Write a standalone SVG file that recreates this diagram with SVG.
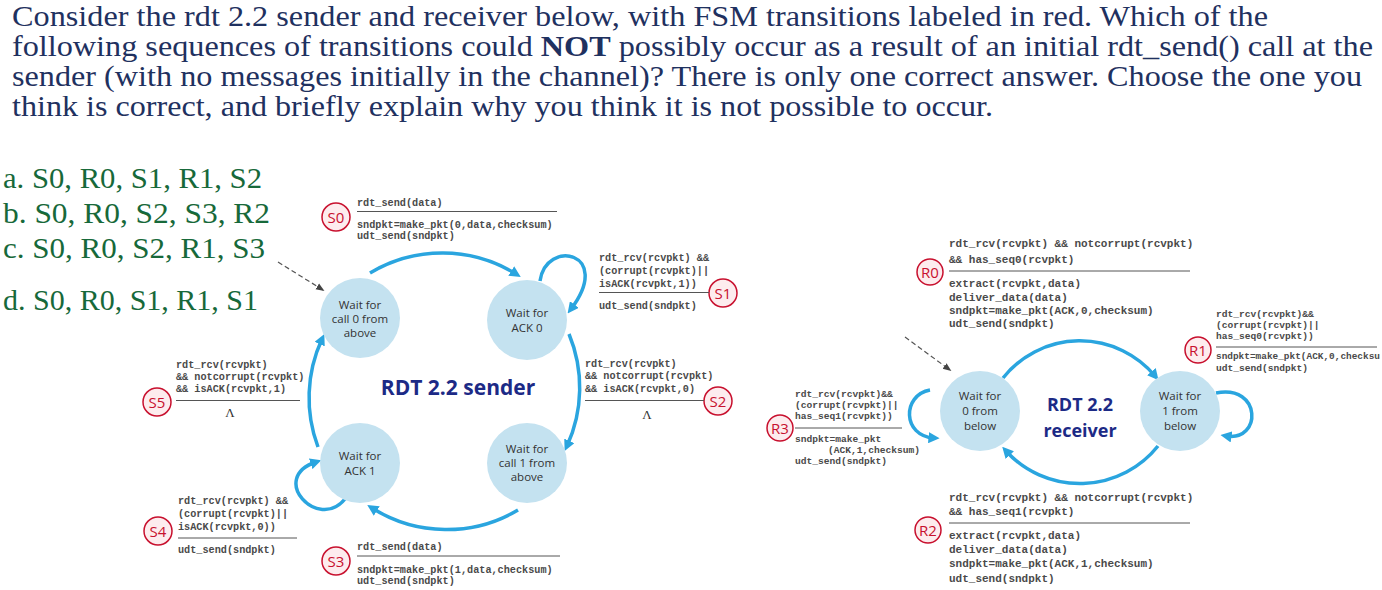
<svg xmlns="http://www.w3.org/2000/svg" width="1382" height="590" viewBox="0 0 1382 590">
<style>
.hdr{font-family:"Liberation Serif",serif;font-size:29px;fill:#1f3160}
.ch{font-family:"Liberation Serif",serif;font-size:29px;fill:#17693a}
.st{fill:#c4e2f0;stroke:none}
.stt{font-family:"Open Sans","Liberation Sans",sans-serif;font-size:11.5px;fill:#333;text-anchor:middle}
.ttl{font-family:"Open Sans","Liberation Sans",sans-serif;font-weight:bold;fill:#1c2a86;text-anchor:middle}
.arc{fill:none;stroke:#2aa5df;stroke-width:3.5;marker-end:url(#ah)}
.dash{fill:none;stroke:#555;stroke-width:1.2;stroke-dasharray:5 3;marker-end:url(#dh)}
.m{font-family:"Liberation Mono",monospace;font-weight:bold;fill:#4a4a4a}
.m10{font-size:10.2px}
.m11{font-size:11px}
.m9{font-size:9.6px}
.sep{stroke:#555;stroke-width:1}
.lc{fill:#fdecee;stroke:#c8102e;stroke-width:1.5}
.lt{font-family:"Open Sans","Liberation Sans",sans-serif;font-size:15px;fill:#c8102e;text-anchor:middle}
.lam{font-family:"Liberation Serif",serif;font-size:13px;fill:#333;text-anchor:middle}
</style>
<defs>
<marker id="ah" viewBox="0 0 10 10" refX="5" refY="5" markerWidth="3.2" markerHeight="3.2" orient="auto" markerUnits="strokeWidth">
<path d="M0,0 L10,5 L0,10 z" fill="#2aa5df"/>
</marker>
<marker id="dh" viewBox="0 0 10 10" refX="8" refY="5" markerWidth="7" markerHeight="7" orient="auto" markerUnits="strokeWidth">
<path d="M0,1 L10,5 L0,9 z" fill="#444"/>
</marker>
</defs>
<rect width="1382" height="590" fill="#fff"/>

<g id="question">
<text class="hdr" x="12" y="26" textLength="1256" lengthAdjust="spacingAndGlyphs">Consider the rdt 2.2 sender and receiver below, with FSM transitions labeled in red. Which of the</text>
<text class="hdr" x="12" y="56" textLength="1361" lengthAdjust="spacingAndGlyphs">following sequences of transitions could <tspan font-weight="bold">NOT</tspan> possibly occur as a result of an initial rdt_send() call at the</text>
<text class="hdr" x="12" y="86" textLength="1350" lengthAdjust="spacingAndGlyphs">sender (with no messages initially in the channel)? There is only one correct answer. Choose the one you</text>
<text class="hdr" x="12" y="116" textLength="981" lengthAdjust="spacingAndGlyphs">think is correct, and briefly explain why you think it is not possible to occur.</text>
</g>

<g id="choices">
<text class="ch" x="3" y="188" textLength="259" lengthAdjust="spacingAndGlyphs">a. S0, R0, S1, R1, S2</text>
<text class="ch" x="3" y="223" textLength="267" lengthAdjust="spacingAndGlyphs">b. S0, R0, S2, S3, R2</text>
<text class="ch" x="3" y="258" textLength="262" lengthAdjust="spacingAndGlyphs">c. S0, R0, S2, R1, S3</text>
<text class="ch" x="3" y="310" textLength="255" lengthAdjust="spacingAndGlyphs">d. S0, R0, S1, R1, S1</text>
</g>

<g id="connectors">
<path class="dash" d="M278,262 L323,290"/>
<path class="arc" d="M370,273 A140,140 0 0 1 516,274"/>
<path class="arc" d="M569,334 A140,140 0 0 1 567,446"/>
<path class="arc" d="M518,510 A140,140 0 0 1 372,508"/>
<path class="arc" d="M318,447 A140,140 0 0 1 322,339"/>
<path class="arc" d="M540,281 C546,238 614,252 571,309"/>
<path class="arc" d="M345,499 C318,532 268,478 316,462"/>
<path class="dash" d="M905,337 L950,370"/>
<path class="arc" d="M1003,378 A98,98 0 0 1 1155,376"/>
<path class="arc" d="M1158,446 A100,100 0 0 1 1006,451"/>
<path class="arc" d="M930,390 C902,395 902,436 934,438"/>
<path class="arc" d="M1216,393 C1262,384 1262,442 1226,436"/>
</g>

<g id="sender-title"><text class="ttl" x="458" y="395" font-size="21px">RDT 2.2 sender</text></g>

<g id="s-wait-call0">
<circle class="st" cx="360" cy="318" r="40"/>
<text class="stt" x="360" y="309">Wait for</text>
<text class="stt" x="360" y="323">call 0 from</text>
<text class="stt" x="360" y="337">above</text>
</g>
<g id="s-wait-ack0">
<circle class="st" cx="527" cy="320" r="40"/>
<text class="stt" x="527" y="317">Wait for</text>
<text class="stt" x="527" y="332">ACK 0</text>
</g>
<g id="s-wait-call1">
<circle class="st" cx="527" cy="463" r="40"/>
<text class="stt" x="527" y="453">Wait for</text>
<text class="stt" x="527" y="467">call 1 from</text>
<text class="stt" x="527" y="481">above</text>
</g>
<g id="s-wait-ack1">
<circle class="st" cx="360" cy="463" r="40"/>
<text class="stt" x="360" y="460">Wait for</text>
<text class="stt" x="360" y="475">ACK 1</text>
</g>

<g id="label-S0">
<circle class="lc" cx="336" cy="217" r="14"/><text class="lt" x="336" y="222.5">S0</text>
<text class="m m10" x="357" y="206">rdt_send(data)</text>
<line class="sep" x1="357" y1="211.5" x2="557" y2="211.5"/>
<text class="m m10" x="357" y="228">sndpkt=make_pkt(0,data,checksum)</text>
<text class="m m10" x="357" y="239">udt_send(sndpkt)</text>
</g>
<g id="label-S1">
<circle class="lc" cx="723" cy="293" r="14"/><text class="lt" x="723" y="298.5">S1</text>
<text class="m m10" x="599" y="261">rdt_rcv(rcvpkt) &amp;&amp;</text>
<text class="m m10" x="599" y="273.5">(corrupt(rcvpkt)||</text>
<text class="m m10" x="599" y="286.5">isACK(rcvpkt,1))</text>
<line class="sep" x1="599" y1="292.5" x2="709" y2="292.5"/>
<text class="m m10" x="599" y="309">udt_send(sndpkt)</text>
</g>
<g id="label-S2">
<circle class="lc" cx="718" cy="401" r="14"/><text class="lt" x="718" y="406.5">S2</text>
<text class="m m10" x="585" y="367">rdt_rcv(rcvpkt)</text>
<text class="m m10" x="585" y="379">&amp;&amp; notcorrupt(rcvpkt)</text>
<text class="m m10" x="585" y="391.5">&amp;&amp; isACK(rcvpkt,0)</text>
<line class="sep" x1="585" y1="400.5" x2="704" y2="400.5"/>
<text class="lam" x="647" y="419">Λ</text>
</g>
<g id="label-S3">
<circle class="lc" cx="336" cy="561" r="14"/><text class="lt" x="336" y="566.5">S3</text>
<text class="m m10" x="357" y="550">rdt_send(data)</text>
<line class="sep" x1="357" y1="556" x2="560" y2="556"/>
<text class="m m10" x="357" y="573">sndpkt=make_pkt(1,data,checksum)</text>
<text class="m m10" x="357" y="584">udt_send(sndpkt)</text>
</g>
<g id="label-S4">
<circle class="lc" cx="158" cy="531" r="14"/><text class="lt" x="158" y="536.5">S4</text>
<text class="m m10" x="178" y="504">rdt_rcv(rcvpkt) &amp;&amp;</text>
<text class="m m10" x="178" y="517">(corrupt(rcvpkt)||</text>
<text class="m m10" x="178" y="530">isACK(rcvpkt,0))</text>
<line class="sep" x1="178" y1="538" x2="297" y2="538"/>
<text class="m m10" x="178" y="553">udt_send(sndpkt)</text>
</g>
<g id="label-S5">
<circle class="lc" cx="157" cy="402" r="14"/><text class="lt" x="157" y="407.5">S5</text>
<text class="m m10" x="176" y="368">rdt_rcv(rcvpkt)</text>
<text class="m m10" x="176" y="380">&amp;&amp; notcorrupt(rcvpkt)</text>
<text class="m m10" x="176" y="392">&amp;&amp; isACK(rcvpkt,1)</text>
<line class="sep" x1="176" y1="400.5" x2="300" y2="400.5"/>
<text class="lam" x="230" y="417">Λ</text>
</g>

<g id="receiver-title">
<text class="ttl" x="1080" y="411" font-size="18px">RDT 2.2</text>
<text class="ttl" x="1080" y="437" font-size="18px">receiver</text>
</g>
<g id="r-wait-0">
<circle class="st" cx="980" cy="411" r="40"/>
<text class="stt" x="980" y="400">Wait for</text>
<text class="stt" x="980" y="415">0 from</text>
<text class="stt" x="980" y="430">below</text>
</g>
<g id="r-wait-1">
<circle class="st" cx="1180" cy="411" r="40"/>
<text class="stt" x="1180" y="400">Wait for</text>
<text class="stt" x="1180" y="415">1 from</text>
<text class="stt" x="1180" y="430">below</text>
</g>

<g id="label-R0">
<circle class="lc" cx="930" cy="272" r="13"/><text class="lt" x="930" y="277.5">R0</text>
<text class="m m11" x="949" y="247">rdt_rcv(rcvpkt) &amp;&amp; notcorrupt(rcvpkt)</text>
<text class="m m11" x="949" y="263">&amp;&amp; has_seq0(rcvpkt)</text>
<line class="sep" x1="949" y1="271" x2="1190" y2="271"/>
<text class="m m11" x="949" y="287">extract(rcvpkt,data)</text>
<text class="m m11" x="949" y="301">deliver_data(data)</text>
<text class="m m11" x="949" y="314">sndpkt=make_pkt(ACK,0,checksum)</text>
<text class="m m11" x="949" y="327">udt_send(sndpkt)</text>
</g>
<g id="label-R1">
<circle class="lc" cx="1198" cy="350" r="13"/><text class="lt" x="1198" y="355.5">R1</text>
<text class="m m9" x="1216" y="317">rdt_rcv(rcvpkt)&amp;&amp;</text>
<text class="m m9" x="1216" y="328">(corrupt(rcvpkt)||</text>
<text class="m m9" x="1216" y="339">has_seq0(rcvpkt))</text>
<line class="sep" x1="1216" y1="347" x2="1377" y2="347"/>
<text class="m m9" x="1216" y="359" textLength="164" lengthAdjust="spacingAndGlyphs">sndpkt=make_pkt(ACK,0,checksu</text>
<text class="m m9" x="1216" y="371">udt_send(sndpkt)</text>
</g>
<g id="label-R2">
<circle class="lc" cx="928" cy="530" r="13"/><text class="lt" x="928" y="535.5">R2</text>
<text class="m m11" x="949" y="501">rdt_rcv(rcvpkt) &amp;&amp; notcorrupt(rcvpkt)</text>
<text class="m m11" x="949" y="515">&amp;&amp; has_seq1(rcvpkt)</text>
<line class="sep" x1="949" y1="523" x2="1190" y2="523"/>
<text class="m m11" x="949" y="539">extract(rcvpkt,data)</text>
<text class="m m11" x="949" y="553">deliver_data(data)</text>
<text class="m m11" x="949" y="567">sndpkt=make_pkt(ACK,1,checksum)</text>
<text class="m m11" x="949" y="582">udt_send(sndpkt)</text>
</g>
<g id="label-R3">
<circle class="lc" cx="780" cy="428" r="13"/><text class="lt" x="780" y="433.5">R3</text>
<text class="m m9" x="795" y="397">rdt_rcv(rcvpkt)&amp;&amp;</text>
<text class="m m9" x="795" y="408">(corrupt(rcvpkt)||</text>
<text class="m m9" x="795" y="419">has_seq1(rcvpkt))</text>
<line class="sep" x1="795" y1="428" x2="902" y2="428"/>
<text class="m m9" x="795" y="442">sndpkt=make_pkt</text>
<text class="m m9" x="828" y="453">(ACK,1,checksum)</text>
<text class="m m9" x="795" y="464">udt_send(sndpkt)</text>
</g>
</svg>
